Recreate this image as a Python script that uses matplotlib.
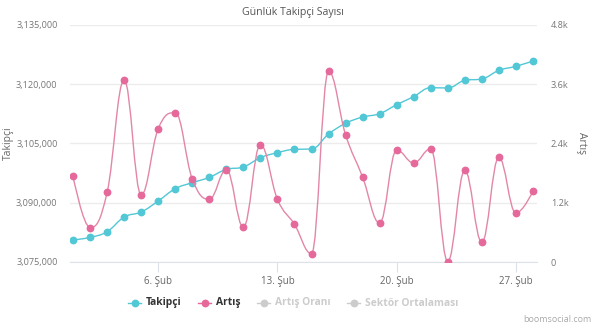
import matplotlib.pyplot as plt
import numpy as np
from matplotlib.path import Path
from matplotlib.patches import PathPatch
from matplotlib.lines import Line2D

plt.rcParams['font.family'] = ['Open Sans', 'DejaVu Sans']

days = list(range(1, 29))
takipci = [3080570, 3081240, 3082670, 3086390, 3087660, 3090440, 3093560,
           3095080, 3096430, 3098460, 3099050, 3101410, 3102680, 3103520,
           3103600, 3107400, 3110100, 3111700, 3112550, 3114830, 3116860,
           3119130, 3119050, 3120990, 3121330, 3123520, 3124530, 3125890]
artis = [1735, 695, 1411, 3686, 1357, 2700, 3024, 1681, 1269, 1870, 702,
         2376, 1269, 763, 169, 3861, 2578, 1721, 790, 2268, 2005, 2295,
         10, 1856, 398, 2120, 992, 1431]
xticks = [6, 13, 20, 27]
xlabels = ['6. Şub', '13. Şub', '20. Şub', '27. Şub']
left_ticks = [3075000, 3090000, 3105000, 3120000, 3135000]
right_ticks = [0, 1200, 2400, 3600, 4800]
right_labels = ['0', '1.2k', '2.4k', '3.6k', '4.8k']

teal = '#52c7d5'
pink = '#e5699a'


def spline_path(xs, ys, sx, sy):
    # highcharts-like spline; sx, sy rescale to pixel-ish space
    X = np.asarray(xs, float) * sx
    Y = np.asarray(ys, float) * sy
    n = len(X)
    verts = [(xs[0], ys[0])]
    codes = [Path.MOVETO]
    sm, den = 1.5, 2.5
    ctrl = []
    for i in range(n):
        if i == 0 or i == n - 1:
            ctrl.append((X[i], Y[i], X[i], Y[i]))
            continue
        lx = (sm * X[i] + X[i - 1]) / den
        ly = (sm * Y[i] + Y[i - 1]) / den
        rx = (sm * X[i] + X[i + 1]) / den
        ry = (sm * Y[i] + Y[i + 1]) / den
        if rx != lx:
            c = (ry - ly) * (rx - X[i]) / (rx - lx) + Y[i] - ry
            ly += c
            ry += c
        if ly > Y[i - 1] and ly > Y[i]:
            ly = max(Y[i - 1], Y[i]); ry = 2 * Y[i] - ly
        elif ly < Y[i - 1] and ly < Y[i]:
            ly = min(Y[i - 1], Y[i]); ry = 2 * Y[i] - ly
        if ry > Y[i + 1] and ry > Y[i]:
            ry = max(Y[i + 1], Y[i]); ly = 2 * Y[i] - ry
        elif ry < Y[i + 1] and ry < Y[i]:
            ry = min(Y[i + 1], Y[i]); ly = 2 * Y[i] - ry
        ctrl.append((lx, ly, rx, ry))
    for i in range(1, n):
        verts += [(ctrl[i - 1][2] / sx, ctrl[i - 1][3] / sy),
                  (ctrl[i][0] / sx, ctrl[i][1] / sy),
                  (xs[i], ys[i])]
        codes += [Path.CURVE4] * 3
    return Path(verts, codes)


fig = plt.figure(figsize=(6.05, 3.34), dpi=100)
ax = fig.add_axes([70 / 605, 1 - 262 / 334, 467 / 605, 237 / 334])
ax2 = ax.twinx()

ax.set_xlim(0.82, 28.24)
ax.set_ylim(3075000, 3135000)
ax2.set_ylim(0, 4800)

for a in (ax, ax2):
    for s in a.spines.values():
        s.set_visible(False)
ax.spines['bottom'].set_visible(True)
ax.spines['bottom'].set_color('#dde2ea')

ax.set_yticks(left_ticks)
ax.set_yticklabels([f'{v:,}' for v in left_ticks])
ax2.set_yticks(right_ticks)
ax2.set_yticklabels(right_labels)
ax.grid(axis='y', color='#ececec', lw=1)
ax.tick_params(axis='y', length=0, pad=9, labelsize=6.6, labelcolor='#777777')
ax2.tick_params(axis='y', length=0, pad=10, labelsize=6.6, labelcolor='#777777')
ax.set_xticks(xticks)
ax.set_xticklabels(xlabels)
ax.tick_params(axis='x', length=7, color='#dde2ea', pad=3, labelsize=7,
               labelcolor='#666666')

fig.text(8 / 605, 1 - 143 / 334, 'Takipçi', rotation=90, ha='center',
         va='center', color='#666666', fontsize=7.5)
fig.text(581 / 605, 1 - 143 / 334, 'Artış', rotation=270, ha='center',
         va='center', color='#666666', fontsize=7.5)

# spline scaling: px per unit
sx = 467 / (28.24 - 0.82)
p1 = spline_path(days, takipci, sx, 237 / 60000)
ax.add_patch(PathPatch(p1, fc='none', ec=teal, lw=1.0, zorder=3))
ax.plot(days, takipci, 'o', color=teal, ms=4.6, zorder=4)
p2 = spline_path(days, artis, sx, 237 / 4800)
ax2.add_patch(PathPatch(p2, fc='none', ec='#e386a8', lw=1.0, zorder=3))
ax2.plot(days, artis, 'o', color=pink, ms=4.6, zorder=4)

fig.text(0.485, 1 - 12 / 334, 'Günlük Takipçi Sayısı', ha='center', va='center',
         fontsize=7.6, color='#555555')

# legend
items = [('Takipçi', teal, '#333333', 128), ('Artış', pink, '#333333', 198),
         ('Artış Oranı', '#cccccc', '#cccccc', 257),
         ('Sektör Ortalaması', '#cccccc', '#cccccc', 347)]
ly = 1 - 303 / 334
for name, mc, tc, x0 in items:
    fig.add_artist(Line2D([x0 / 605, (x0 + 13) / 605], [ly, ly], color=mc, lw=1,
                          transform=fig.transFigure))
    fig.add_artist(Line2D([(x0 + 6.5) / 605], [ly], marker='o', color=mc, ms=4.6,
                          transform=fig.transFigure))
    fig.text((x0 + 18) / 605, ly, name, ha='left', va='center', fontsize=7.4,
             fontweight='bold', color=tc)

fig.text(592 / 605, 1 - 320 / 334, 'boomsocial.com', ha='right', va='center',
         fontsize=6.5, color='#aaaaaa')

fig.savefig('out.png', dpi=100, facecolor='white')
